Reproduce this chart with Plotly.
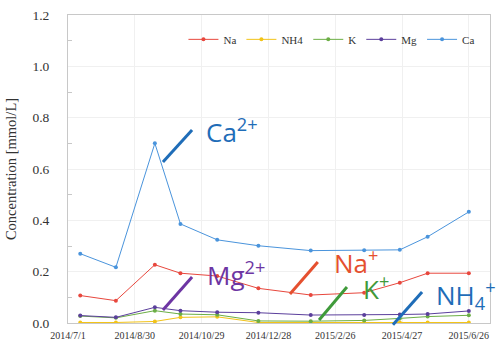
import plotly.graph_objects as go

# Sampling dates and ion concentrations [mmol/L]
dates = ["2014-07-12", "2014-08-13", "2014-09-17", "2014-10-10", "2014-11-12",
         "2014-12-19", "2015-02-04", "2015-03-24", "2015-04-25", "2015-05-20",
         "2015-06-26"]
na = [0.107, 0.087, 0.227, 0.194, 0.183, 0.135, 0.109, 0.118, 0.157, 0.194, 0.194]
nh4 = [0.002, 0.002, 0.006, 0.022, 0.024, 0.002, 0.002, 0.002, 0.002, 0.002, 0.002]
k = [0.027, 0.020, 0.048, 0.035, 0.032, 0.008, 0.007, 0.010, 0.018, 0.025, 0.030]
mg = [0.029, 0.022, 0.061, 0.048, 0.042, 0.040, 0.031, 0.031, 0.033, 0.035, 0.047]
ca = [0.270, 0.217, 0.700, 0.386, 0.324, 0.301, 0.282, 0.283, 0.285, 0.336, 0.433]

series_names = ["Na", "NH4", "K", "Mg", "Ca"]
series_values = [na, nh4, k, mg, ca]
series_colors = ["#e8473d", "#f2c318", "#6cae45", "#5b3f9c", "#4a94dc"]

tick_dates = ["2014-07-01", "2014-08-30", "2014-10-29", "2014-12-28",
              "2015-02-26", "2015-04-27", "2015-06-26"]
tick_labels = ["2014/7/1", "2014/8/30", "2014/10/29", "2014/12/28",
               "2015/2/26", "2015/4/27", "2015/6/26"]

# Ion labels with leader lines (paper coordinates)
ion_labels = ["Ca<sup>2+</sup>", "Mg<sup>2+</sup>", "Na<sup>+</sup>", "K<sup>+</sup>",
              "NH<sub>4</sub><sup>+</sup>"]
ion_colors = ["#1f6db8", "#6d35a3", "#e5502f", "#3f9a3a", "#1f6db8"]
ion_text_pos = [(0.322, 0.623), (0.324, 0.159), (0.625, 0.198), (0.694, 0.114), (0.867, 0.091)]
ion_lines = [((0.225, 0.523), (0.294, 0.627)),
             ((0.225, 0.042), (0.294, 0.149)),
             ((0.526, 0.094), (0.592, 0.198)),
             ((0.595, 0.010), (0.661, 0.117)),
             ((0.770, -0.006), (0.839, 0.101))]

fig = go.Figure()
for name, vals, col in zip(series_names, series_values, series_colors):
    fig.add_trace(go.Scatter(
        x=dates, y=vals, name=name, mode="lines+markers",
        line=dict(color=col, width=1),
        marker=dict(color=col, size=4),
    ))

for text, col, (tx, ty), ((x0, y0), (x1, y1)) in zip(ion_labels, ion_colors, ion_text_pos, ion_lines):
    fig.add_annotation(x=tx, y=ty, xref="paper", yref="paper", text=text,
                       showarrow=False, xanchor="left", yanchor="middle",
                       font=dict(family="Open Sans", size=26, color=col))
    fig.add_shape(type="line", xref="paper", yref="paper",
                  x0=x0, y0=y0, x1=x1, y1=y1,
                  line=dict(color=col, width=3))

serif = "Liberation Serif"
fig.update_layout(
    width=500, height=346,
    margin=dict(l=68, r=10, t=15, b=23, autoexpand=False),
    paper_bgcolor="white", plot_bgcolor="white",
    showlegend=True,
    legend=dict(orientation="h", x=0.975, y=0.968, xanchor="right", yanchor="top",
                font=dict(family=serif, size=11, color="#333"),
                itemwidth=30, bgcolor="rgba(0,0,0,0)", tracegroupgap=0),
    xaxis=dict(
        type="date", range=["2014-07-01", "2015-07-15"],
        tickvals=tick_dates, ticktext=tick_labels, tickangle=0,
        tickfont=dict(family=serif, size=10, color="#333"),
        showgrid=True, gridcolor="#f0f0f0", gridwidth=1,
        showline=True, linecolor="#c8c8c8", mirror=True,
        ticks="", zeroline=False, ticklabelstandoff=3,
    ),
    yaxis=dict(
        range=[0, 1.2], dtick=0.2, tickformat=".1f",
        tickfont=dict(family=serif, size=13.5, color="#333"),
        title=dict(text="Concentration [mmol/L]", font=dict(family=serif, size=14.5, color="#333"),
                   standoff=12),
        showgrid=True, gridcolor="#f0f0f0", gridwidth=1,
        showline=True, linecolor="#c8c8c8", mirror=True,
        ticks="", zeroline=False, ticklabelstandoff=15,
        minor=dict(dtick=0.1, ticks="inside", ticklen=4, tickcolor="#c8c8c8", showgrid=False),
    ),
)

fig.write_html("out.html")
